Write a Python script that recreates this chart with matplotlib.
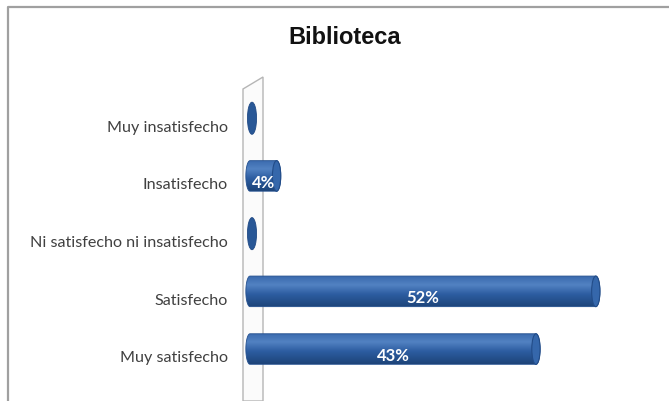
import matplotlib.pyplot as plt
import numpy as np
from matplotlib.patches import Ellipse, Polygon, PathPatch
from matplotlib.path import Path
from matplotlib.lines import Line2D
from matplotlib.colors import LinearSegmentedColormap

# data
categories = ['Muy insatisfecho', 'Insatisfecho', 'Ni satisfecho ni insatisfecho',
              'Satisfecho', 'Muy satisfecho']
values = [0, 4, 0, 52, 43]
value_labels = ['', '4%', '', '52%', '43%']

W, H = 669, 402
fig = plt.figure(figsize=(W / 100, H / 100), dpi=100)
fig.patch.set_facecolor('white')

def fx(px):
    return px / W

def fy(py):
    return 1 - py / H

# chart frame (gray border top/left)
fig.add_artist(Line2D([fx(8), fx(8), 1.0], [0.0, fy(8), fy(8)],
                      transform=fig.transFigure, color='#a0a0a0', lw=1.6))

# 3d wall behind the bars
wall = Polygon([(fx(243), fy(90)), (fx(263), fy(78)), (fx(263), fy(402)), (fx(243), fy(402))],
               closed=True, transform=fig.transFigure, facecolor='#fbfbfb',
               edgecolor='#b5b5b5', lw=1.0, zorder=0)
fig.add_artist(wall)

# x=0 sits at px 250, 6.65 px per percent
xmin = -1.5
ax = fig.add_axes([fx(250 + xmin * 6.65), 0.0, fx(650) - fx(250 + xmin * 6.65), fy(80)])
ax.set_xlim(xmin, 60.15)
ax.set_ylim(4.78, -0.80)
ax.patch.set_alpha(0)
for s in ax.spines.values():
    s.set_visible(False)
ax.set_xticks([])
ax.set_yticks(range(len(categories)))
ax.set_yticklabels(categories, fontsize=11.6, color='#404040', family='Lato')
ax.tick_params(axis='y', length=0, pad=9)

fig.text(fx(345), fy(38), 'Biblioteca', ha='center', va='center',
         fontsize=17, fontweight='bold', color='#111111', family='Liberation Sans')

cmap = LinearSegmentedColormap.from_list(
    'cyl', [(0.0, '#3a6aae'), (0.28, '#5282c2'), (0.6, '#2c5ca0'), (1.0, '#1d4479')])
grad = np.linspace(0, 1, 64).reshape(-1, 1)

h = 0.53      # bar thickness in category units
cw = 1.25     # cap ellipse width in data units
off = -0.12   # bars sit a bit above the label line

def cylinder_path(v, yc):
    t1 = np.linspace(-np.pi / 2, np.pi / 2, 40)
    right = np.column_stack([v + cw / 2 * np.cos(t1), yc + h / 2 * np.sin(t1)])
    t2 = np.linspace(np.pi / 2, 3 * np.pi / 2, 40)
    left = np.column_stack([0 + cw / 2 * np.cos(t2), yc + h / 2 * np.sin(t2)])
    pts = np.vstack([right, left, right[:1]])
    return Path(pts, closed=True)

for i, v in enumerate(values):
    yc = i + off
    if v == 0:
        ax.add_patch(Ellipse((0.3, yc), width=cw * 1.1, height=h * 1.05,
                             facecolor='#285796', edgecolor='#214a85', lw=0.6, zorder=3))
        continue
    patch = PathPatch(cylinder_path(v, yc), facecolor='none', edgecolor='#24508f', lw=0.6, zorder=4)
    ax.add_patch(patch)
    im = ax.imshow(grad, cmap=cmap, aspect='auto', origin='upper', zorder=3,
                   extent=(-cw, v + cw, yc + h / 2, yc - h / 2))
    im.set_clip_path(patch)
    ax.add_patch(Ellipse((v, yc), width=cw, height=h, facecolor='#3567ab',
                         edgecolor='#224c88', lw=0.8, zorder=5))
    ax.text(v / 2, yc + 0.1, value_labels[i], ha='center', va='center',
            fontsize=12, fontweight='bold', color='white', family='Lato', zorder=6)

ax.set_xlim(xmin, 60.15)
ax.set_ylim(4.78, -0.80)

fig.savefig('out.png', dpi=100)
